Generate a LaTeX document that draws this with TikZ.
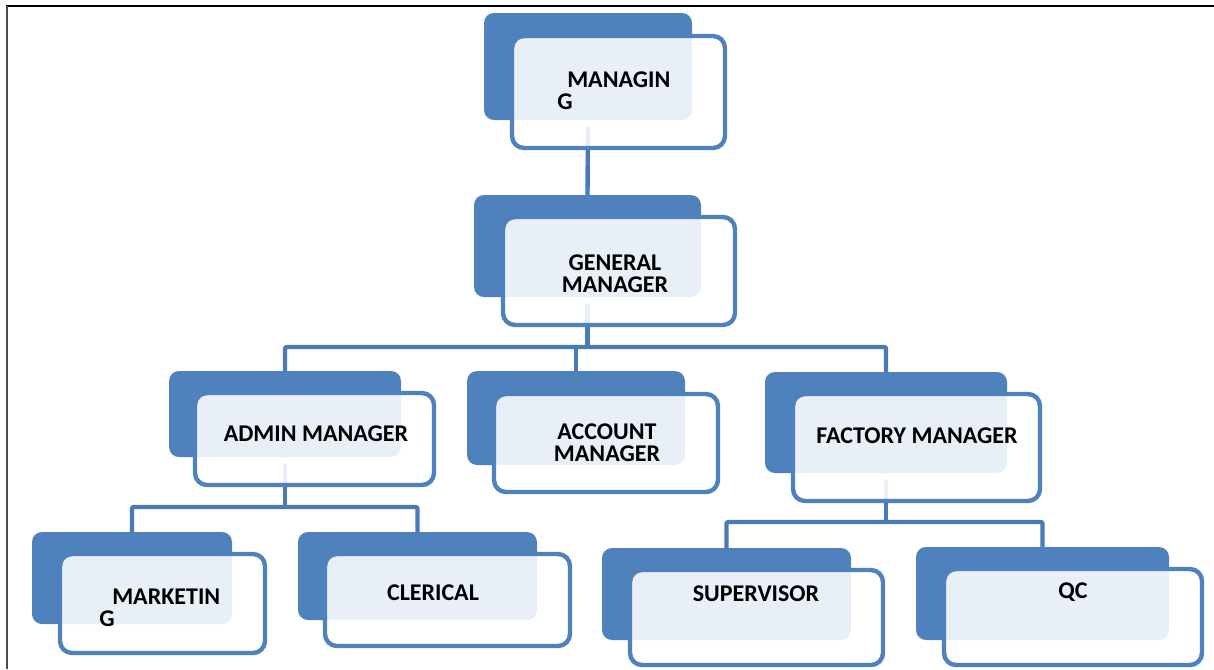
\documentclass[tikz,border=0pt]{standalone}
\usepackage{fontspec}
\setmainfont{Carlito}
\usetikzlibrary{fit,backgrounds}
\definecolor{ob}{HTML}{4F81BD}
\definecolor{connc}{HTML}{4A7BB7}
\begin{document}
\begin{tikzpicture}[x=0.75pt,y=-0.75pt,
  backbox/.style={fill=ob, draw=none, rounded corners=7.5pt, inner sep=0pt, outer sep=0pt},
  frontbox/.style={draw=ob, line width=3.3pt, fill=white, fill opacity=0.88, rounded corners=9pt, inner sep=0pt, outer sep=0pt},
  lbl/.style={font=\fontsize{18}{16.8}\selectfont\bfseries, text=black, inner sep=0pt, align=center},
  conn/.style={draw=connc, line width=3.3pt, rounded corners=1.5pt}]
\useasboundingbox (0,0) rectangle (1214,669);
\draw[black, line width=1.5pt] (6,6) -- (1214,6);
\draw[black!70, line width=1.5pt] (7,6) -- (7,669);

% MANAGING
\node[backbox, fit={(484,13) (692,120)}] (mgB) {};
\node[frontbox, fit={(512,36) (725,148)}] (mgF) {};
\node[lbl, align=left, anchor=west] (mgT) at (557,91) {\hspace*{7.5pt}MANAGIN\\G};
% GENERAL MANAGER
\node[backbox, fit={(474,195) (701,297)}] (gmB) {};
\node[frontbox, fit={(503,217) (735,325)}] (gmF) {};
\node[lbl] (gmT) at (615,274) {GENERAL\\MANAGER};
% ADMIN MANAGER
\node[backbox, fit={(169,371) (401,457)}] (admB) {};
\node[frontbox, fit={(195,393) (434,485)}] (admF) {};
\node[lbl] (admT) at (316,434) {ADMIN MANAGER};
% ACCOUNT MANAGER
\node[backbox, fit={(467,371) (685,465)}] (accB) {};
\node[frontbox, fit={(494,394) (718,492)}] (accF) {};
\node[lbl] (accT) at (607,443) {ACCOUNT\\MANAGER};
% FACTORY MANAGER
\node[backbox, fit={(765,372) (1007,473)}] (facB) {};
\node[frontbox, fit={(793,394) (1040,501)}] (facF) {};
\node[lbl] (facT) at (917,436) {FACTORY MANAGER};
% MARKETING
\node[backbox, fit={(32,532) (232,624)}] (mktB) {};
\node[frontbox, fit={(60,554) (265,653)}] (mktF) {};
\node[lbl, align=left, anchor=west] (mktT) at (99,608) {\hspace*{9.75pt}MARKETIN\\G};
% CLERICAL
\node[backbox, fit={(298,532) (537,620)}] (clrB) {};
\node[frontbox, fit={(325,554) (570,646)}] (clrF) {};
\node[lbl] (clrT) at (433,593) {CLERICAL};
% SUPERVISOR
\node[backbox, fit={(602,548) (851,640)}] (supB) {};
\node[frontbox, fit={(630,570) (883,665)}] (supF) {};
\node[lbl] (supT) at (756,594) {SUPERVISOR};
% QC
\node[backbox, fit={(916,547) (1169,640)}] (qcB) {};
\node[frontbox, fit={(944,569) (1202,665)}] (qcF) {};
\node[lbl] (qcT) at (1073,592) {QC};

\begin{pgfonlayer}{background}
\coordinate (bus1) at (0,347);
\coordinate (bus2) at (0,507);
\coordinate (bus3) at (0,522);
\draw[conn, shorten <=5pt] (mgB.south) -- (gmB.north);
\draw[conn, shorten <=5pt] (gmB.south) -- (gmB.south |- bus1);
\draw[conn] (admB.north) -- (admB.north |- bus1) -- (facB.north |- bus1) -- (facB.north);
\draw[conn] (accB.north) -- (accB.north |- bus1);
\draw[conn, shorten <=5pt] (admB.south) -- (admB.south |- bus2);
\draw[conn] (mktB.north) -- (mktB.north |- bus2) -- (clrB.north |- bus2) -- (clrB.north);
\draw[conn, shorten <=5pt] (facB.south) -- (facB.south |- bus3);
\draw[conn] (supB.north) -- (supB.north |- bus3) -- (qcB.north |- bus3) -- (qcB.north);
\end{pgfonlayer}
\end{tikzpicture}
\end{document}
